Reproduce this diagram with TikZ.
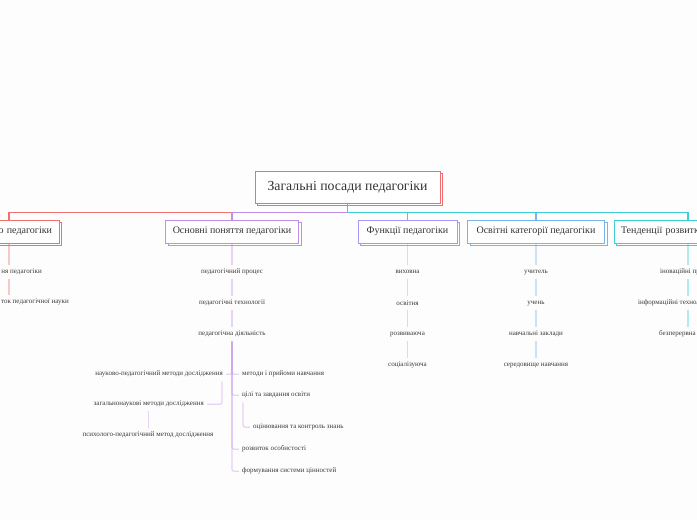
\documentclass[tikz,border=0pt]{standalone}
\usepackage{fontspec}
\setmainfont{Liberation Serif}
\usetikzlibrary{shadows}
\definecolor{bgc}{HTML}{FDFDFD}
\definecolor{rootc}{HTML}{F26D6D}
\definecolor{ca}{HTML}{F07070}
\definecolor{cb}{HTML}{C18FE8}
\definecolor{cc}{HTML}{A497F7}
\definecolor{cd}{HTML}{78B4F0}
\definecolor{ce}{HTML}{3DCDD6}
\definecolor{textc}{HTML}{333333}
\definecolor{leafc}{HTML}{3A3A3A}
\begin{document}
\begin{tikzpicture}[x=1pt,y=-1pt,
  box/.style={draw=#1, fill=white, line width=1pt, text=textc,
    font=\fontsize{10}{12}\selectfont, minimum height=23pt,
    inner xsep=7pt, inner ysep=0pt,
    copy shadow={shadow xshift=2.5pt, shadow yshift=-2.5pt}},
  rootbox/.style={box=rootc, font=\fontsize{13.8}{16}\selectfont,
    minimum height=32pt, minimum width=185pt},
  leaf/.style={font=\fontsize{7}{8.5}\selectfont, text=leafc,
    minimum height=14pt, inner xsep=3pt, inner ysep=0pt, yshift=-1.2pt},
  bus/.style={draw=#1, line width=1.1pt},
  link/.style={draw=#1, line width=1.3pt, opacity=0.38, rounded corners=2pt},
]
\useasboundingbox (0,0) rectangle (697,520);
\fill[bgc] (0,0) rectangle (697,520);

% root
\node[rootbox] (root) at (347.5,187) {Загальні посади педагогіки};

% branches
\node[box=ca, text width=86pt, align=right] (b1) at (9,231.5) {о педагогіки};
\node[box=cb, minimum width=133pt] (b2) at (232,231.5) {Основні поняття педагогіки};
\node[box=cc, minimum width=99pt] (b3) at (407.5,231.5) {Функції педагогіки};
\node[box=cd, minimum width=137pt] (b4) at (536,231.5) {Освітні категорії педагогіки};
\node[box=ce, text width=134pt, align=left] (b5) at (688,231.5) {Тенденції розвитку};

% bus connectors
\draw[bus=ca] (root.south) -- ([yshift=-9pt]root.south) -| (b1.north);
\draw[bus=cb] (root.south) -- ([yshift=-9pt]root.south) -| (b2.north);
\draw[bus=cc] (root.south) -- ([yshift=-9pt]root.south) -| (b3.north);
\draw[bus=cd] (root.south) -- ([yshift=-9pt]root.south) -| (b4.north);
\draw[bus=ce] (root.south) -- ([yshift=-9pt]root.south) -| (b5.north);

% branch 1
\node[leaf, anchor=east] (a1) at (45,271) {ня педагогіки};
\node[leaf, anchor=east] (a2) at (72,301) {ток педагогічної науки};
\draw[link=ca] (b1.south) -- (b1.south |- a1.north);
\draw[link=ca] (b1.south |- a1.south) -- (b1.south |- a2.north);

% branch 2
\node[leaf] (p1) at (232,271) {педагогічний процес};
\node[leaf] (p2) at (232,302) {педагогічні технології};
\node[leaf] (d) at (232,333) {педагогічна діяльність};
\draw[link=cb] (b2.south) -- (p1.north);
\draw[link=cb] (p1.south) -- (p2.north);
\draw[link=cb] (p2.south) -- (d.north);

\node[leaf, anchor=west] (m1) at (239,373) {методи і прийоми навчання};
\node[leaf, anchor=west] (m2) at (239,394) {цілі та завдання освіти};
\node[leaf, anchor=west] (m3) at (250,426) {оцінювання та контроль знань};
\node[leaf, anchor=west] (m4) at (239,448) {розвиток особистості};
\node[leaf, anchor=west] (m5) at (239,470) {формування системи цінностей};
\node[leaf, anchor=east] (l1) at (226,373) {науково-педагогічний методи дослідження};
\node[leaf, anchor=east] (l2) at (207,403) {загальнонаукові методи дослідження};
\node[leaf] (l3) at (148,434) {психолого-педагогічний метод дослідження};

\draw[link=cb] (d.south) |- (m1.west);
\draw[link=cb] (d.south) |- (m2.west);
\draw[link=cb] (d.south) |- (m4.west);
\draw[link=cb] (d.south) |- (m5.west);
\draw[link=cb] (d.south) |- (l1.east);
\draw[link=cb] ([xshift=4pt]m2.south west) |- (m3.west);
\draw[link=cb] ([xshift=-4pt]l1.south east) |- (l2.east);
\draw[link=cb] (l2.south) -- (l2.south |- l3.north);

% branch 3
\node[leaf] (f1) at (407.5,271) {виховна};
\node[leaf] (f2) at (407.5,302) {освітня};
\node[leaf] (f3) at (407.5,333) {розвиваюча};
\node[leaf] (f4) at (407.5,364) {соціалізуюча};
\draw[link=cc] (b3.south) -- (f1.north);
\draw[link=cc] (f1.south) -- (f2.north);
\draw[link=cc] (f2.south) -- (f3.north);
\draw[link=cc] (f3.south) -- (f4.north);

% branch 4
\node[leaf] (k1) at (536,271) {учитель};
\node[leaf] (k2) at (536,302) {учень};
\node[leaf] (k3) at (536,333) {навчальні заклади};
\node[leaf] (k4) at (536,364) {середовище навчання};
\draw[link=cd] (b4.south) -- (k1.north);
\draw[link=cd] (k1.south) -- (k2.north);
\draw[link=cd] (k2.south) -- (k3.north);
\draw[link=cd] (k3.south) -- (k4.north);

% branch 5
\node[leaf, anchor=west] (t1) at (657,271) {іноваційні процеси};
\node[leaf, anchor=west] (t2) at (635,302) {інформаційні технології};
\node[leaf, anchor=west] (t3) at (656,333) {безперервна освіта};
\draw[link=ce] (b5.south) -- (b5.south |- t1.north);
\draw[link=ce] (b5.south |- t1.south) -- (b5.south |- t2.north);
\draw[link=ce] (b5.south |- t2.south) -- (b5.south |- t3.north);
\end{tikzpicture}
\end{document}
